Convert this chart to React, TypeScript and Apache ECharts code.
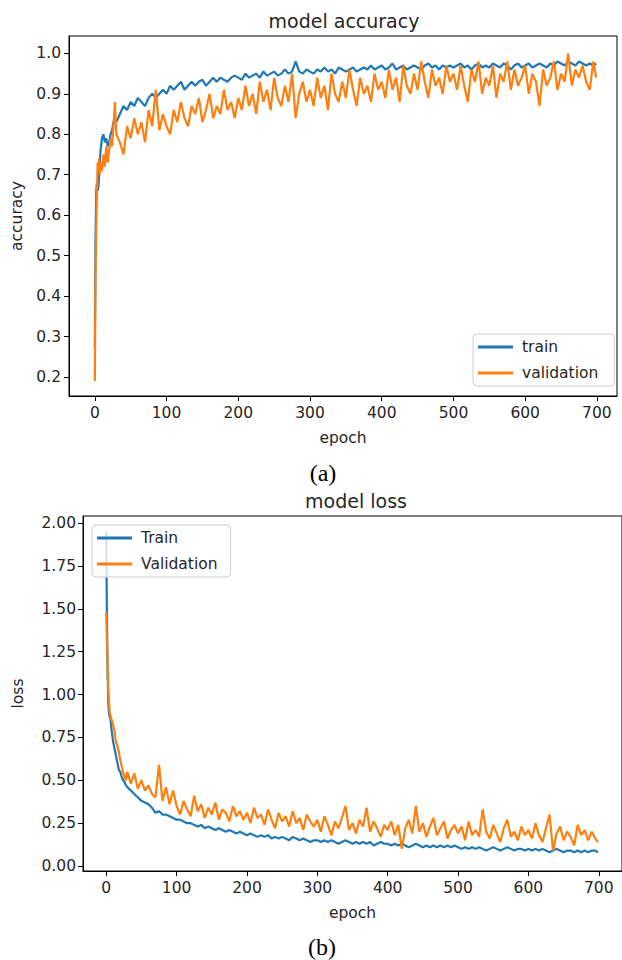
import React, { useEffect, useRef } from "react";
import * as echarts from "echarts";

const EARLY_EPOCHS = [0, 1, 2, 3, 4, 5, 6, 7, 8, 10, 12, 14, 16, 18, 20, 22, 24, 26, 28, 30];
const EPOCHS: number[] = [...EARLY_EPOCHS];
for (let e = 35; e <= 695; e += 5) EPOCHS.push(e);
EPOCHS.push(699);

const X_TICKS = [0, 100, 200, 300, 400, 500, 600, 700];
const ACC_TICKS = [0.2, 0.3, 0.4, 0.5, 0.6, 0.7, 0.8, 0.9, 1.0];
const LOSS_TICKS = [0, 0.25, 0.5, 0.75, 1.0, 1.25, 1.5, 1.75, 2.0];

const ACC_TRAIN = [
  0.27, 0.55, 0.66, 0.68, 0.66, 0.67, 0.70, 0.73, 0.76, 0.79, 0.80, 0.78, 0.79, 0.77, 0.78, 0.80, 0.81, 0.83, 0.84, 0.83,
  0.85, 0.87, 0.86, 0.88, 0.87, 0.89, 0.88, 0.87, 0.89, 0.90, 0.89, 0.90, 0.91,
  0.90, 0.92, 0.91, 0.92, 0.93, 0.91, 0.92, 0.93, 0.92, 0.93, 0.935, 0.92, 0.93, 0.94, 0.93, 0.94, 0.935, 0.93, 0.94, 0.945,
  0.94, 0.935, 0.95, 0.94, 0.945, 0.95, 0.94, 0.955, 0.945, 0.95, 0.955, 0.945, 0.95, 0.96, 0.95, 0.955, 0.98, 0.955, 0.95, 0.96,
  0.955, 0.95, 0.96, 0.955, 0.965, 0.955, 0.96, 0.95, 0.965, 0.96, 0.955, 0.96, 0.965, 0.955, 0.96, 0.965, 0.96, 0.97, 0.96, 0.965,
  0.97, 0.96, 0.965, 0.975, 0.96, 0.965, 0.97, 0.96, 0.965, 0.97, 0.965, 0.96, 0.97, 0.975, 0.965, 0.97, 0.96, 0.97, 0.965, 0.97,
  0.965, 0.97, 0.975, 0.965, 0.97, 0.96, 0.97, 0.975, 0.965, 0.97, 0.965, 0.975, 0.97, 0.965, 0.975, 0.97, 0.96, 0.97, 0.975, 0.965,
  0.97, 0.975, 0.965, 0.97, 0.975, 0.97, 0.965, 0.975, 0.97, 0.98, 0.975, 0.97, 0.98, 0.975, 0.97, 0.98, 0.975, 0.97, 0.975, 0.97,
  0.975,
];

const ACC_VAL = [
  0.19, 0.45, 0.58, 0.66, 0.73, 0.72, 0.74, 0.70, 0.73, 0.71, 0.75, 0.72, 0.77, 0.73, 0.76, 0.79, 0.77, 0.82, 0.88, 0.80,
  0.78, 0.75, 0.82, 0.79, 0.84, 0.80, 0.83, 0.78, 0.86, 0.82, 0.91, 0.81, 0.85,
  0.82, 0.80, 0.86, 0.83, 0.88, 0.84, 0.82, 0.87, 0.85, 0.89, 0.83, 0.86, 0.90, 0.84, 0.87, 0.85, 0.91, 0.86, 0.88, 0.84,
  0.89, 0.86, 0.92, 0.87, 0.90, 0.85, 0.93, 0.88, 0.91, 0.86, 0.94, 0.89, 0.87, 0.92, 0.88, 0.95, 0.84, 0.90, 0.93, 0.88,
  0.91, 0.87, 0.94, 0.89, 0.92, 0.86, 0.95, 0.90, 0.88, 0.93, 0.89, 0.96, 0.91, 0.87, 0.94, 0.90, 0.92, 0.88, 0.95, 0.91,
  0.93, 0.89, 0.96, 0.91, 0.94, 0.88, 0.97, 0.92, 0.90, 0.95, 0.91, 0.98, 0.93, 0.89, 0.96, 0.92, 0.94, 0.90, 0.97, 0.93,
  0.95, 0.91, 0.97, 0.92, 0.88, 0.96, 0.93, 0.98, 0.90, 0.94, 0.92, 0.97, 0.89, 0.95, 0.93, 0.98, 0.91, 0.96, 0.92, 0.94,
  0.97, 0.90, 0.95, 0.93, 0.87, 0.96, 0.92, 0.94, 0.98, 0.91, 0.95, 0.93, 1.00, 0.92, 0.96, 0.94, 0.97, 0.93, 0.91, 0.98,
  0.94,
];

const LOSS_TRAIN = [
  1.95, 1.45, 1.12, 0.95, 0.89, 0.87, 0.86, 0.82, 0.78, 0.72, 0.68, 0.64, 0.60, 0.56, 0.55, 0.52, 0.50, 0.49, 0.47, 0.46,
  0.44, 0.42, 0.40, 0.38, 0.37, 0.36, 0.34, 0.31, 0.32, 0.30, 0.30, 0.29, 0.28,
  0.27, 0.27, 0.26, 0.25, 0.25, 0.24, 0.23, 0.24, 0.22, 0.23, 0.22, 0.21, 0.22, 0.21, 0.20, 0.21, 0.20, 0.19, 0.20, 0.19,
  0.18, 0.19, 0.18, 0.17, 0.18, 0.17, 0.18, 0.16, 0.17, 0.16, 0.17, 0.16, 0.15, 0.17, 0.16, 0.15, 0.16, 0.15, 0.14, 0.15,
  0.15, 0.14, 0.15, 0.14, 0.15, 0.14, 0.13, 0.14, 0.15, 0.14, 0.13, 0.14, 0.13, 0.14, 0.13, 0.14, 0.12, 0.13, 0.14, 0.13,
  0.13, 0.12, 0.13, 0.12, 0.13, 0.12, 0.11, 0.12, 0.13, 0.12, 0.11, 0.12, 0.11, 0.12, 0.11, 0.12, 0.11, 0.12, 0.11, 0.12,
  0.11, 0.10, 0.11, 0.10, 0.11, 0.10, 0.11, 0.10, 0.09, 0.10, 0.11, 0.10, 0.09, 0.10, 0.11, 0.10, 0.09, 0.10, 0.10, 0.09,
  0.10, 0.09, 0.10, 0.09, 0.10, 0.09, 0.08, 0.09, 0.10, 0.09, 0.08, 0.09, 0.09, 0.08, 0.09, 0.08, 0.09, 0.08, 0.09, 0.09,
  0.08,
];

const LOSS_VAL = [
  1.48, 1.30, 1.17, 1.02, 0.95, 0.90, 0.88, 0.86, 0.85, 0.82, 0.78, 0.72, 0.70, 0.66, 0.62, 0.58, 0.55, 0.52, 0.50, 0.55,
  0.48, 0.54, 0.45, 0.50, 0.44, 0.47, 0.42, 0.40, 0.59, 0.38, 0.46, 0.36, 0.44,
  0.35, 0.30, 0.38, 0.33, 0.29, 0.41, 0.32, 0.36, 0.28, 0.34, 0.30, 0.37, 0.27, 0.33, 0.31, 0.26, 0.35, 0.29, 0.32, 0.27,
  0.31, 0.25, 0.34, 0.28, 0.30, 0.24, 0.33, 0.27, 0.22, 0.31, 0.26, 0.29, 0.23, 0.32, 0.25, 0.28, 0.21, 0.30, 0.26, 0.23,
  0.27, 0.20, 0.29, 0.24, 0.18, 0.26, 0.22, 0.28, 0.35, 0.21, 0.25, 0.19, 0.27, 0.23, 0.34, 0.20, 0.26, 0.22, 0.17, 0.24,
  0.21, 0.26, 0.18, 0.24, 0.10, 0.22, 0.27, 0.19, 0.35, 0.20, 0.25, 0.17, 0.23, 0.28, 0.18, 0.22, 0.26, 0.16, 0.21, 0.24,
  0.19, 0.23, 0.15, 0.26, 0.18, 0.21, 0.17, 0.33, 0.20, 0.16, 0.24, 0.19, 0.14, 0.22, 0.27, 0.17, 0.20, 0.15, 0.23, 0.18,
  0.21, 0.16, 0.25, 0.18, 0.14, 0.22, 0.30, 0.09, 0.19, 0.23, 0.15, 0.20, 0.17, 0.12, 0.24, 0.18, 0.21, 0.15, 0.20, 0.16,
  0.14,
];

const BLUE = "#1f77b4";
const ORANGE = "#ff7f0e";
const TEXT = "#262626";
const FONT = "DejaVu Sans";

const pair = (vals: number[]) => vals.map((v, i) => [EPOCHS[i], v]);

function xAxis(gridIndex: number, min: number, max: number, nameGap: number) {
  return {
    type: "value",
    gridIndex,
    min,
    max,
    name: "epoch",
    nameLocation: "middle",
    nameGap,
    nameTextStyle: { color: TEXT, fontFamily: FONT, fontSize: 15.5 },
    axisLine: { show: true, onZero: false, lineStyle: { color: "#000", width: 1 } },
    axisTick: { show: true, inside: false, length: 5, customValues: X_TICKS, lineStyle: { color: "#000", width: 1 } },
    axisLabel: {
      show: true,
      customValues: X_TICKS,
      margin: 9,
      color: TEXT,
      fontFamily: FONT,
      fontSize: 15.5,
      formatter: (v: number) => String(Math.round(v)),
    },
    splitLine: { show: false },
  };
}

function yAxis(gridIndex: number, min: number, max: number, name: string, nameGap: number, ticks: number[], digits: number, margin: number) {
  return {
    type: "value",
    gridIndex,
    min,
    max,
    name,
    nameLocation: "middle",
    nameGap,
    nameTextStyle: { color: TEXT, fontFamily: FONT, fontSize: 15.5 },
    axisLine: { show: true, onZero: false, lineStyle: { color: "#000", width: 1 } },
    axisTick: { show: true, inside: false, length: 5, customValues: ticks, lineStyle: { color: "#000", width: 1 } },
    axisLabel: {
      show: true,
      customValues: ticks,
      margin,
      color: TEXT,
      fontFamily: FONT,
      fontSize: 15.5,
      formatter: (v: number) => v.toFixed(digits),
    },
    splitLine: { show: false },
  };
}

function legend(names: string[], left: number, top: number, padRight: number) {
  return {
    orient: "vertical",
    left,
    top,
    data: names,
    icon: "rect",
    itemWidth: 35,
    itemHeight: 3,
    itemGap: 8,
    padding: [4, padRight, 4, 5],
    backgroundColor: "rgba(255,255,255,0.8)",
    borderColor: "#cccccc",
    borderWidth: 1,
    borderRadius: 4,
    textStyle: { color: TEXT, fontFamily: FONT, fontSize: 15.5, lineHeight: 18, padding: [0, 0, 0, 4] },
  };
}

function lineSeries(name: string, x: number, y: number, data: number[][], color: string) {
  return {
    type: "line",
    name,
    xAxisIndex: x,
    yAxisIndex: y,
    data,
    showSymbol: false,
    symbol: "none",
    lineStyle: { color, width: 2.2 },
    itemStyle: { color },
    emphasis: { disabled: true },
  };
}

export default function App() {
  const ref = useRef<HTMLDivElement>(null);
  useEffect(() => {
    if (!ref.current) return;
    const chart = echarts.init(ref.current, null, { renderer: "svg" });
    chart.setOption({
      animation: false,
      backgroundColor: "#ffffff",
      grid: [
        { left: 69, top: 36, width: 548, height: 360, show: true, borderColor: "#000", borderWidth: 1, backgroundColor: "transparent" },
        { left: 83, top: 516, width: 547, height: 355, show: true, borderColor: "#000", borderWidth: 1, backgroundColor: "transparent" },
      ],
      xAxis: [xAxis(0, -36, 728, 34), xAxis(1, -33, 733, 34)],
      yAxis: [
        yAxis(0, 0.153, 1.043, "accuracy", 44, ACC_TICKS, 1, 8),
        yAxis(1, -0.029, 2.041, "loss", 57, LOSS_TICKS, 2, 7),
      ],
      legend: [legend(["train", "validation"], 473, 334, 16), legend(["Train", "Validation"], 92, 525, 13)],
      series: [
        lineSeries("train", 0, 0, pair(ACC_TRAIN), BLUE),
        lineSeries("validation", 0, 0, pair(ACC_VAL), ORANGE),
        lineSeries("Train", 1, 1, pair(LOSS_TRAIN), BLUE),
        lineSeries("Validation", 1, 1, pair(LOSS_VAL), ORANGE),
      ],
      graphic: [
        { type: "text", x: 344, y: 21, style: { text: "model accuracy", fill: TEXT, font: `19px '${FONT}'`, textAlign: "center", textVerticalAlign: "middle" } },
        { type: "text", x: 356, y: 501, style: { text: "model loss", fill: TEXT, font: `19px '${FONT}'`, textAlign: "center", textVerticalAlign: "middle" } },
        { type: "text", x: 323, y: 473, style: { text: "(a)", fill: "#000", font: "24px 'Liberation Serif'", textAlign: "center", textVerticalAlign: "middle" } },
        { type: "text", x: 322, y: 947, style: { text: "(b)", fill: "#000", font: "24px 'Liberation Serif'", textAlign: "center", textVerticalAlign: "middle" } },
      ],
    });
    return () => chart.dispose();
  }, []);
  return <div ref={ref} style={{ position: "absolute", left: 0, top: 0, width: 622, height: 960 }} />;
}
